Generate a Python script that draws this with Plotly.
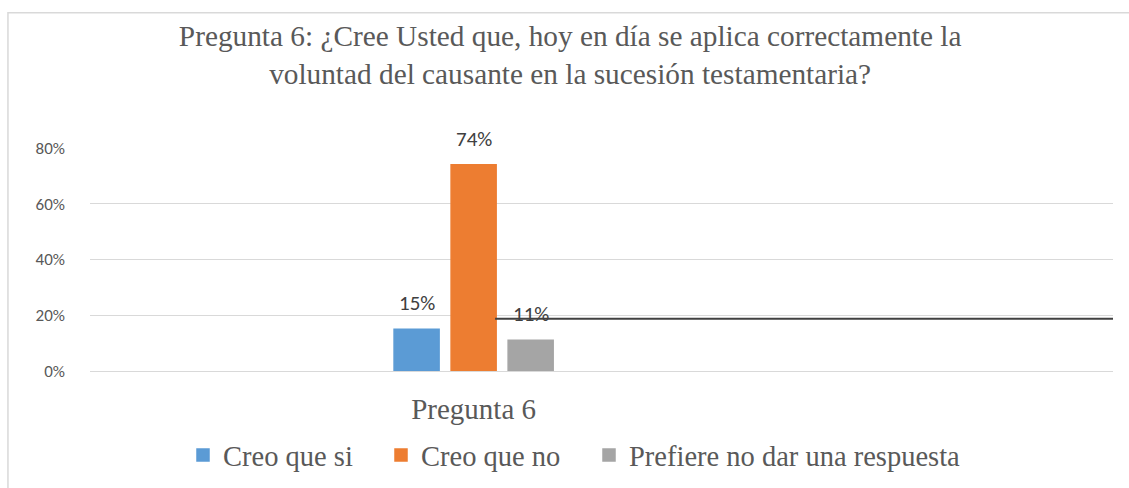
import plotly.graph_objects as go

title_text = "Pregunta 6: ¿Cree Usted que, hoy en día se aplica correctamente la<br>voluntad del causante en la sucesión testamentaria?"
category_label = "Pregunta 6"
series_names = ["Creo que si", "Creo que no", "Prefiere no dar una respuesta"]
series_values = [0.15, 0.74, 0.11]
series_colors = ["#5B9BD5", "#ED7D31", "#A5A5A5"]
y_tickvals = [0, 0.2, 0.4, 0.6, 0.8]
y_ticktext = ["0%", "20%", "40%", "60%", "80%"]
stray_line_value = 0.187

SERIF = "Liberation Serif, Times New Roman, serif"
SANS = "Carlito, Liberation Sans, Arial, sans-serif"
legend_item_widths = [153, 163, 345]

fig = go.Figure()
for name, val, col, lw in zip(series_names, series_values, series_colors, legend_item_widths):
    fig.add_trace(go.Bar(
        x=[0], y=[val], name=name,
        marker=dict(color=col, line=dict(width=1.5, color=col)),
        hoverinfo="name+y", legendwidth=lw,
    ))

# data labels placed above each bar of the group
group_offsets_px = [-57, 0, 57]
for val, dx in zip(series_values, group_offsets_px):
    fig.add_annotation(x=0, y=val, xref="x", yref="y", text=f"{val*100:.0f}%",
                       showarrow=False, xshift=dx, yshift=11, yanchor="bottom",
                       font=dict(family=SANS, size=21, color="#404040"))

fig.update_layout(
    width=1129, height=488,
    margin=dict(l=90, r=16, t=148, b=117, autoexpand=False),
    paper_bgcolor="white", plot_bgcolor="white",
    barmode="group", bargap=0.331, bargroupgap=0.21,
    title=dict(text=title_text, x=0.505, xref="container", xanchor="center",
               y=1 - 46 / 488, yref="container", yanchor="top",
               font=dict(family=SERIF, size=29.3, color="#595959")),
    xaxis=dict(range=[-1.5, 2.5], tickvals=[0], ticktext=[category_label],
               showgrid=False, zeroline=False, showline=True, linecolor="#D9D9D9",
               ticks="", ticklabelstandoff=12, automargin=False,
               tickfont=dict(family=SERIF, size=29, color="#595959")),
    yaxis=dict(range=[0, 0.8], tickvals=y_tickvals, ticktext=y_ticktext,
               showgrid=True, gridcolor="#D9D9D9", gridwidth=1.3, zeroline=False,
               showline=False, ticks="", ticklabelstandoff=24, automargin=False,
               tickfont=dict(family=SANS, size=17, color="#595959")),
    legend=dict(orientation="h", x=(183 - 90) / 1023, xanchor="left",
                y=1 - 430 / 488, yref="container", yanchor="top",
                font=dict(family=SERIF, size=28.5, color="#595959"),
                itemwidth=30, traceorder="normal"),
    showlegend=True,
)

fig.add_shape(type="rect", xref="paper", yref="paper", x0=-0.0802, y0=-1.0, x1=1.2, y1=(371 - 13.3) / 222.7,
              line=dict(color="#D9D9D9", width=1.5), fillcolor="rgba(0,0,0,0)", layer="below")
fig.add_shape(type="line", xref="paper", yref="y", x0=0.396, x1=1.0, y0=stray_line_value, y1=stray_line_value,
              line=dict(color="#404040", width=2))

fig.write_html("out.html", config={"displayModeBar": False},
               post_script="document.body.style.margin='0';")
